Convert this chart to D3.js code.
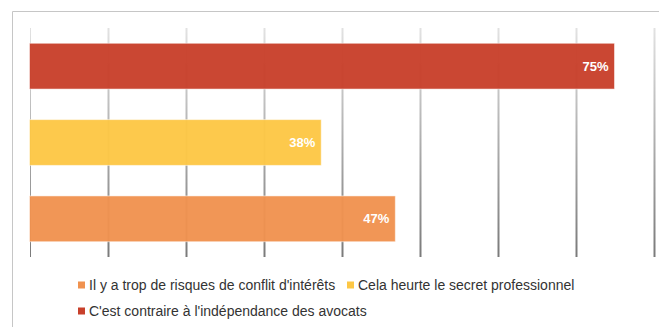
<!DOCTYPE html>
<html>
<head>
<meta charset="utf-8">
<script src="https://cdn.jsdelivr.net/npm/d3@7"></script>
<style>
  body { margin: 0; background: #fff; }
  svg { font-family: "Liberation Sans", Arial, sans-serif; }
</style>
</head>
<body>
<script>
// series in legend order
var seriesNames = [
    "Il y a trop de risques de conflit d'intérêts",
    "Cela heurte le secret professionnel",
    "C'est contraire à l'indépendance des avocats"
];
var seriesValues = [46.9, 37.4, 75];
var seriesLabels = ["47%", "38%", "75%"];
var seriesColors = ["#f0924f", "#fdc745", "#c8402b"];
var xTicks = [0, 10, 20, 30, 40, 50, 60, 70, 80];

var svgWidth = 659, svgHeight = 327;

var svg = d3.select("body").append("svg")
    .attr("width", svgWidth)
    .attr("height", svgHeight);

// frame
svg.append("path")
    .attr("d", "M12.5," + svgHeight + "V11.5H" + svgWidth)
    .attr("fill", "none")
    .attr("stroke", "#c6c6c6");

var data = seriesNames.map(function (n, i) {
    return { name: n, value: seriesValues[i], label: seriesLabels[i], color: seriesColors[i] };
});

var xScale = d3.scaleLinear()
    .domain([0, 80])
    .range([29.5, 653.5]);

// bars top to bottom: last series first
var yScale = d3.scaleBand()
    .domain(data.map(d => d.name).reverse())
    .range([28, 257])
    .paddingInner(0.4)
    .paddingOuter(0.2);

var grad = svg.append("defs").append("linearGradient")
    .attr("id", "gridGrad")
    .attr("gradientUnits", "userSpaceOnUse")
    .attr("x1", 0).attr("x2", 0)
    .attr("y1", 28).attr("y2", 257);
grad.append("stop").attr("offset", "0%").attr("stop-color", "#e2e2e2");
grad.append("stop").attr("offset", "100%").attr("stop-color", "#7a7a7a");

svg.append("g").selectAll("line")
    .data(xTicks)
    .enter()
    .append("line")
    .attr("x1", d => Math.round(xScale(d)) + 0.5)
    .attr("x2", d => Math.round(xScale(d)) + 0.5)
    .attr("y1", 28)
    .attr("y2", 257)
    .attr("stroke", "url(#gridGrad)")
    .attr("stroke-width", d => d === 0 ? 1 : 2);

svg.append("g").selectAll("rect")
    .data(data)
    .enter()
    .append("rect")
    .attr("x", xScale(0))
    .attr("y", d => yScale(d.name))
    .attr("width", d => xScale(d.value) - xScale(0))
    .attr("height", yScale.bandwidth())
    .attr("fill", d => d.color)
    .attr("fill-opacity", 0.96)
    .attr("stroke", "#ffffff")
    .attr("stroke-opacity", 0.5);

svg.append("g").selectAll("text")
    .data(data)
    .enter()
    .append("text")
    .attr("x", d => xScale(d.value) - 6)
    .attr("y", d => yScale(d.name) + yScale.bandwidth() / 2)
    .attr("dy", "0.35em")
    .attr("text-anchor", "end")
    .attr("fill", "#fff")
    .attr("font-weight", "bold")
    .attr("font-size", "13px")
    .text(d => d.label);

// legend
var legendPos = [[78, 285], [347, 285], [78, 311]];
var legend = svg.append("g").selectAll("g")
    .data(data)
    .enter()
    .append("g")
    .attr("transform", (d, i) => "translate(" + legendPos[i][0] + "," + legendPos[i][1] + ")");

legend.append("rect")
    .attr("x", 0)
    .attr("y", -3.5)
    .attr("width", 7)
    .attr("height", 7)
    .attr("fill", d => d.color);

legend.append("text")
    .attr("x", 11)
    .attr("y", 0)
    .attr("dy", "0.35em")
    .attr("font-size", "14px")
    .attr("fill", "#333")
    .text(d => d.name);
</script>
</body>
</html>
